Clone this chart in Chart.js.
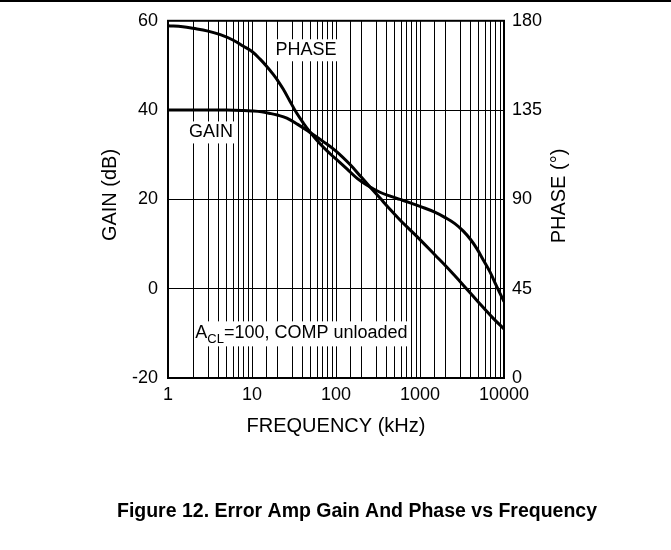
<!DOCTYPE html>
<html>
<head>
<meta charset="utf-8">
<script src="https://cdn.jsdelivr.net/npm/chart.js@4.4.1/dist/chart.umd.min.js"></script>
<style>
  html, body { margin: 0; padding: 0; background: #fff; }
  canvas { display: block; }
</style>
</head>
<body>
<canvas id="c" width="671" height="550"></canvas>
<script>
// values (frequency in kHz)
const gainFreq = [1, 2, 5, 8, 10, 13, 16, 20, 26, 35, 49, 70, 100, 147, 200, 254, 334, 420, 578, 750, 1000, 1500, 2000, 2600, 3280, 4300, 5670, 7500, 10000];
const gainDb = [40, 40, 40, 39.9, 39.8, 39.6, 39.3, 38.9, 38.2, 36.8, 35.0, 33.0, 30.8, 27.8, 25.0, 22.8, 20.3, 18.2, 15.4, 13.3, 11.0, 7.6, 5.2, 2.9, 0.8, -1.7, -4.2, -6.7, -9.0];

const phaseFreq = [1, 1.5, 2, 3, 4.2, 6, 7.9, 10, 12.4, 15, 17.9, 20, 23.6, 28.2, 34, 40.8, 49, 64.5, 85, 110, 134, 180, 232, 334, 450, 578, 750, 1000, 1500, 2000, 2600, 3280, 4000, 4730, 5670, 6810, 8000, 9000, 10000];
const phaseDeg = [177.5, 177, 176.2, 174.8, 173, 170.2, 167.2, 164.5, 160.8, 157, 153, 150.2, 145.5, 139.6, 133.5, 128.5, 124, 118, 113, 108.8, 105.5, 100.5, 97.3, 93.6, 91.5, 90, 88.4, 86.5, 83.6, 80.8, 77.8, 74, 69.8, 65.3, 59.5, 53.5, 47, 42.5, 38.5];

const freqTicks = [1, 10, 100, 1000, 10000];
const gainTicks = [-20, 0, 20, 40, 60];
const phaseTicks = [0, 45, 90, 135, 180];

// curve labels, placed in data units (kHz, dB)
const notes = [
  { text: "PHASE", f: 44, db: 53.4 },
  { text: "GAIN", f: 3.25, db: 35 },
];
const condition = { main: "A", sub: "CL", rest: "=100, COMP unloaded", f: 2, db: -10 };

const FONT = "'Liberation Sans', Arial, Helvetica, sans-serif";
Chart.defaults.font.family = FONT;
Chart.defaults.font.size = 18;
Chart.defaults.color = "#000";

function pts(xs, ys) {
  return xs.map((x, i) => ({ x: x, y: ys[i] }));
}

function isLabelled(v) {
  return freqTicks.some((t) => Math.abs(t - v) < t * 1e-6);
}

const decor = {
  id: "decor",
  beforeDraw(chart) {
    const ctx = chart.ctx;
    ctx.save();
    ctx.fillStyle = "#fff";
    ctx.fillRect(0, 0, chart.width, chart.height);
    ctx.restore();
  },
  beforeDatasetsDraw(chart) {
    const ctx = chart.ctx;
    const sx = chart.scales.x;
    const sy = chart.scales.y;
    ctx.save();
    ctx.font = `18px ${FONT}`;
    ctx.textBaseline = "middle";
    notes.forEach((n) => {
      const x = sx.getPixelForValue(n.f);
      const y = sy.getPixelForValue(n.db);
      const w = ctx.measureText(n.text).width;
      ctx.fillStyle = "#fff";
      ctx.fillRect(x - w / 2 - 4, y - 11, w + 8, 22);
      ctx.fillStyle = "#000";
      ctx.textAlign = "center";
      ctx.fillText(n.text, x, y);
    });

    // A_CL=100, COMP unloaded
    const x0 = sx.getPixelForValue(condition.f) + 1;
    const y0 = sy.getPixelForValue(condition.db);
    ctx.textAlign = "left";
    ctx.font = `18px ${FONT}`;
    const wA = ctx.measureText(condition.main).width;
    const wR = ctx.measureText(condition.rest).width;
    ctx.font = `13px ${FONT}`;
    const wS = ctx.measureText(condition.sub).width;
    ctx.fillStyle = "#fff";
    ctx.fillRect(x0, y0 - 12, wA + wS + wR + 3, 25);
    ctx.fillStyle = "#000";
    ctx.font = `18px ${FONT}`;
    ctx.fillText(condition.main, x0 + 1, y0);
    ctx.font = `13px ${FONT}`;
    ctx.fillText(condition.sub, x0 + 1 + wA, y0 + 6);
    ctx.font = `18px ${FONT}`;
    ctx.fillText(condition.rest, x0 + 1 + wA + wS, y0);
    ctx.restore();
  },
  afterDraw(chart) {
    const ctx = chart.ctx;
    const a = chart.chartArea;
    ctx.save();
    ctx.strokeStyle = "#000";
    ctx.lineWidth = 2;
    ctx.strokeRect(a.left, a.top, a.right - a.left, a.bottom - a.top);

    ctx.fillStyle = "#000";
    ctx.fillRect(0, 0, chart.width, 2);

    ctx.font = `20px ${FONT}`;
    ctx.textAlign = "center";
    ctx.textBaseline = "middle";
    ctx.fillText("FREQUENCY (kHz)", (a.left + a.right) / 2, 426);

    ctx.save();
    ctx.translate(110, 195);
    ctx.rotate(-Math.PI / 2);
    ctx.fillText("GAIN (dB)", 0, 0);
    ctx.restore();

    ctx.save();
    ctx.translate(559, 196);
    ctx.rotate(-Math.PI / 2);
    ctx.fillText("PHASE (\u00B0)", 0, 0);
    ctx.restore();

    ctx.font = `bold 19.5px ${FONT}`;
    ctx.fillText("Figure 12. Error Amp Gain And Phase vs Frequency", 357, 512);
    ctx.restore();
  },
};

new Chart(document.getElementById("c"), {
  type: "line",
  data: {
    datasets: [
      {
        label: "GAIN",
        data: pts(gainFreq, gainDb),
        yAxisID: "y",
        borderColor: "#000",
        borderWidth: 3,
        pointRadius: 0,
        fill: false,
        tension: 0.4,
      },
      {
        label: "PHASE",
        data: pts(phaseFreq, phaseDeg),
        yAxisID: "y1",
        borderColor: "#000",
        borderWidth: 3,
        pointRadius: 0,
        fill: false,
        tension: 0.4,
      },
    ],
  },
  options: {
    responsive: false,
    animation: false,
    events: [],
    layout: { padding: { top: 18, left: 0, right: 0, bottom: 0 } },
    plugins: {
      legend: { display: false },
      tooltip: { enabled: false },
    },
    scales: {
      x: {
        type: "logarithmic",
        position: "bottom",
        min: 1,
        max: 10000,
        grid: { color: "#000", lineWidth: 1, drawTicks: false },
        border: { color: "#000", width: 2 },
        ticks: {
          autoSkip: false,
          maxRotation: 0,
          padding: 6,
          callback: (v) => (isLabelled(v) ? String(Math.round(v)) : ""),
        },
        afterFit: (s) => { s.height = 172; },
      },
      y: {
        type: "linear",
        position: "left",
        min: -20,
        max: 60,
        grid: { color: "#000", lineWidth: 1, drawTicks: false },
        border: { color: "#000", width: 2 },
        ticks: { padding: 10 },
        afterBuildTicks: (s) => { s.ticks = gainTicks.map((v) => ({ value: v })); },
        afterFit: (s) => { s.width = 168; },
      },
      y1: {
        type: "linear",
        position: "right",
        min: 0,
        max: 180,
        grid: { drawOnChartArea: false, drawTicks: false },
        border: { color: "#000", width: 2 },
        ticks: { padding: 8 },
        afterBuildTicks: (s) => { s.ticks = phaseTicks.map((v) => ({ value: v })); },
        afterFit: (s) => { s.width = 167; },
      },
    },
  },
  plugins: [decor],
});
</script>
</body>
</html>
